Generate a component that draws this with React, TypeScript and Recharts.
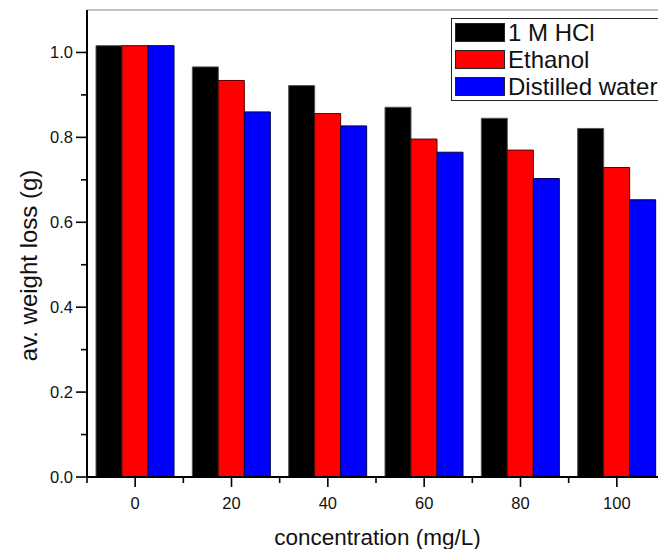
import React from 'react';
import { BarChart, Bar, XAxis, YAxis, Legend, ReferenceLine, Label } from 'recharts';

const concentrations = ['0', '20', '40', '60', '80', '100'];
const hclLoss = [1.016, 0.966, 0.922, 0.871, 0.845, 0.821];
const ethanolLoss = [1.016, 0.934, 0.856, 0.796, 0.770, 0.729];
const waterLoss = [1.016, 0.860, 0.827, 0.765, 0.703, 0.653];
const yTicks = [0, 0.1, 0.2, 0.3, 0.4, 0.5, 0.6, 0.7, 0.8, 0.9, 1.0];
const seriesKeys = ['hcl', 'ethanol', 'water'];
const seriesNames = ['1 M HCl', 'Ethanol', 'Distilled water'];
const seriesColors = ['#000000', '#ff0000', '#0000ff'];
const seriesStrokes = ['#555555', '#5a0000', '#00004a'];

const data = concentrations.map((c, i) => ({
  conc: c,
  hcl: hclLoss[i],
  ethanol: ethanolLoss[i],
  water: waterLoss[i],
}));

const FONT = '"Liberation Sans", Arial, Helvetica, sans-serif';
const CHART_W = 680;
const CHART_H = 549;
const MARGIN = { top: 10, right: 15, bottom: 0, left: 0 };
const Y_AXIS_W = 87;
const X_AXIS_H = 72;
const HALF_BAND = (CHART_W - MARGIN.left - MARGIN.right - Y_AXIS_W) / concentrations.length / 2;

const XTick = (props: any) => {
  const { x, y, payload, index } = props;
  const last = index === concentrations.length - 1;
  return (
    <g>
      <line x1={x} x2={x} y1={y} y2={y + 10} stroke="#000" strokeWidth={1.6} />
      <line x1={x - HALF_BAND} x2={x - HALF_BAND} y1={y} y2={y + 6} stroke="#000" strokeWidth={1.6} />
      {last && (
        <line x1={x + HALF_BAND} x2={x + HALF_BAND} y1={y} y2={y + 6} stroke="#000" strokeWidth={1.6} />
      )}
      <text x={x} y={y + 32} textAnchor="middle" fontSize={16.5} fontFamily={FONT} fill="#111">
        {payload.value}
      </text>
    </g>
  );
};

const YTick = (props: any) => {
  const { x, y, payload } = props;
  const v = payload.value as number;
  const major = Math.round(v * 10) % 2 === 0;
  return (
    <g>
      <line x1={x} x2={x - (major ? 11 : 6)} y1={y} y2={y} stroke="#000" strokeWidth={1.6} />
      {major && (
        <text x={x - 14} y={y + 6} textAnchor="end" fontSize={16.5} fontFamily={FONT} fill="#111">
          {v.toFixed(1)}
        </text>
      )}
    </g>
  );
};

const LegendBox = () => (
  <div
    style={{
      border: '1px solid #222',
      width: 220,
      height: 83,
      boxSizing: 'border-box',
      paddingLeft: 3,
      background: '#fff',
      fontFamily: FONT,
    }}
  >
    {seriesNames.map((n, i) => (
      <div key={n} style={{ display: 'flex', alignItems: 'center', height: 27 }}>
        <div
          style={{
            width: 50,
            height: 19,
            background: seriesColors[i],
            border: '1px solid #222',
            boxSizing: 'border-box',
            flex: 'none',
          }}
        />
        <span style={{ marginLeft: 3, fontSize: 24, lineHeight: '27px', color: '#111', whiteSpace: 'nowrap' }}>
          {n}
        </span>
      </div>
    ))}
  </div>
);

export default function App() {
  return (
    <div
      style={{
        position: 'absolute',
        left: 0,
        top: 0,
        width: 658,
        height: 549,
        overflow: 'hidden',
        background: '#fff',
      }}
    >
      <BarChart
        width={CHART_W}
        height={CHART_H}
        data={data}
        margin={MARGIN}
        barCategoryGap={9}
        barGap={0}
      >
        <XAxis
          dataKey="conc"
          type="category"
          height={X_AXIS_H}
          interval={0}
          tickSize={0}
          tickMargin={0}
          tickLine={false}
          axisLine={{ stroke: '#000', strokeWidth: 2 }}
          tick={(p: any) => <XTick {...p} />}
        >
          <Label
            content={() => (
              <text x={377.5} y={545} textAnchor="middle" fontSize={22.5} fontFamily={FONT} fill="#111">
                concentration (mg/L)
              </text>
            )}
          />
        </XAxis>
        <YAxis
          type="number"
          domain={[0, 1.1]}
          ticks={yTicks}
          allowDataOverflow
          width={Y_AXIS_W}
          interval={0}
          tickSize={0}
          tickMargin={0}
          tickLine={false}
          axisLine={{ stroke: '#000', strokeWidth: 2 }}
          tick={(p: any) => <YTick {...p} />}
        >
          <Label
            content={() => (
              <text
                transform="translate(36.5,265.5) rotate(-90)"
                x={0}
                y={0}
                textAnchor="middle"
                fontSize={24}
                fontFamily={FONT}
                fill="#111"
              >
                av. weight loss (g)
              </text>
            )}
          />
        </YAxis>
        <ReferenceLine y={1.1} stroke="#888" strokeWidth={1.2} ifOverflow="visible" />
        <Legend
          layout="vertical"
          align="center"
          verticalAlign="middle"
          wrapperStyle={{ position: 'absolute', top: 18, left: 451, width: 220 }}
          content={() => <LegendBox />}
        />
        {seriesKeys.map((k, i) => (
          <Bar
            key={k}
            dataKey={k}
            name={seriesNames[i]}
            fill={seriesColors[i]}
            stroke={seriesStrokes[i]}
            strokeWidth={1}
            isAnimationActive={false}
          />
        ))}
      </BarChart>
    </div>
  );
}
